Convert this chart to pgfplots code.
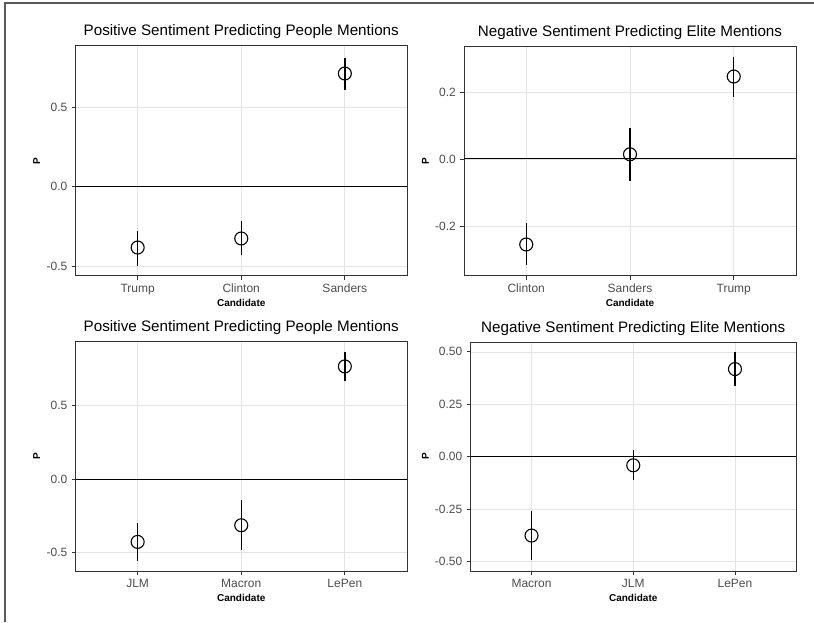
\documentclass[border=0pt]{standalone}
\usepackage{pgfplots}
\pgfplotsset{compat=1.18}
\usepackage{fontspec}
\setmainfont{Liberation Sans}
\definecolor{tickgray}{HTML}{4D4D4D}
\definecolor{framegray}{HTML}{333333}
\definecolor{gridgray}{HTML}{E4E4E4}
\definecolor{outergray}{HTML}{5A5A5A}
\pgfplotsset{
 every axis title/.style={at={(0.5,1)}, anchor=base, font=\fontsize{15.2}{18}\selectfont},
 panel/.style={
  scale only axis,
  anchor=south west,
  xmin=0.4, xmax=3.6,
  xtick={1,2,3},
  xtick pos=left, ytick pos=left,
  tick align=outside,
  major tick length=4pt,
  tick style={framegray, line width=0.8pt},
  axis line style={framegray, line width=1pt},
  grid=major,
  major grid style={gridgray, line width=0.7pt},
  tick label style={font=\fontsize{12}{14}\selectfont, text=tickgray},
  xticklabel style={anchor=base, inner sep=0pt, yshift=-12.5pt},
  yticklabel style={anchor=east, inner sep=0pt, xshift=-4pt},
  xlabel=Candidate, ylabel=P,
  label style={font=\bfseries\fontsize{10}{12}\selectfont},
  xlabel style={at={(0.5,0)}, anchor=base, inner sep=0pt, yshift=-30.7pt},
 },
 pts/.style={only marks, mark=o, mark size=6.5pt, mark options={black, line width=1.1pt},
  error bars/.cd, y dir=both, y explicit, error mark=none,
  error bar style={draw=black, line width=1.4pt}},
 zero/.style={black, line width=1pt, forget plot},
}
\begin{document}
\begin{tikzpicture}
\path[use as bounding box] (0,0) rectangle (814pt,622pt);
\draw[outergray, line width=1.5pt] (5pt,0) -- (5pt,619pt) -- (814pt,619pt);

% Panel 1
\begin{axis}[panel, at={(75.5pt,346pt)}, width=331.5pt, height=230pt,
  ymin=-0.563, ymax=0.884,
  ytick={-0.5,0,0.5}, yticklabels={-0.5,0.0,0.5},
  xticklabels={Trump,Clinton,Sanders},
  title={Positive Sentiment Predicting People Mentions},
  title style={yshift=10.5pt},
  ylabel style={at={(-0.117,0.5)}, anchor=center}]
\addplot[zero] coordinates {(0.4,0) (3.6,0)};
\addplot[pts] coordinates {
 (1,-0.384) += (0,0.107) -= (0,0.113)
 (2,-0.327) += (0,0.107) -= (0,0.107)
 (3,0.711) += (0,0.100) -= (0,0.101)
};
\end{axis}

% Panel 2
\begin{axis}[panel, at={(464pt,346pt)}, width=332pt, height=229pt,
  ymin=-0.349, ymax=0.334,
  ytick={-0.2,0,0.2}, yticklabels={-0.2,0.0,0.2},
  xticklabels={Clinton,Sanders,Trump},
  title={Negative Sentiment Predicting Elite Mentions},
  title style={yshift=10.5pt},
  ylabel style={at={(-0.116,0.5)}, anchor=center}]
\addplot[zero] coordinates {(0.4,0) (3.6,0)};
\addplot[pts] coordinates {
 (1,-0.255) += (0,0.063) -= (0,0.061)
 (2,0.014) += (0,0.079) -= (0,0.080)
 (3,0.246) += (0,0.058) -= (0,0.060)
};
\end{axis}

% Panel 3
\begin{axis}[panel, at={(75.5pt,51pt)}, width=331.5pt, height=229pt,
  ymin=-0.625, ymax=0.932,
  ytick={-0.5,0,0.5}, yticklabels={-0.5,0.0,0.5},
  xticklabels={JLM,Macron,LePen},
  title={Positive Sentiment Predicting People Mentions},
  title style={yshift=10pt},
  ylabel style={at={(-0.117,0.5)}, anchor=center}]
\addplot[zero] coordinates {(0.4,0) (3.6,0)};
\addplot[pts] coordinates {
 (1,-0.427) += (0,0.129) -= (0,0.130)
 (2,-0.314) += (0,0.171) -= (0,0.170)
 (3,0.766) += (0,0.098) -= (0,0.102)
};
\end{axis}

% Panel 4
\begin{axis}[panel, at={(470.5pt,51pt)}, width=325.5pt, height=229pt,
  ymin=-0.545, ymax=0.547,
  ytick={-0.5,-0.25,0,0.25,0.5}, yticklabels={-0.50,-0.25,0.00,0.25,0.50},
  xticklabels={Macron,JLM,LePen},
  title={Negative Sentiment Predicting Elite Mentions},
  title style={yshift=10pt},
  ylabel style={at={(-0.1388,0.5)}, anchor=center}]
\addplot[zero] coordinates {(0.4,0) (3.6,0)};
\addplot[pts] coordinates {
 (1,-0.376) += (0,0.116) -= (0,0.118)
 (2,-0.041) += (0,0.073) -= (0,0.070)
 (3,0.418) += (0,0.081) -= (0,0.079)
};
\end{axis}
\end{tikzpicture}
\end{document}
